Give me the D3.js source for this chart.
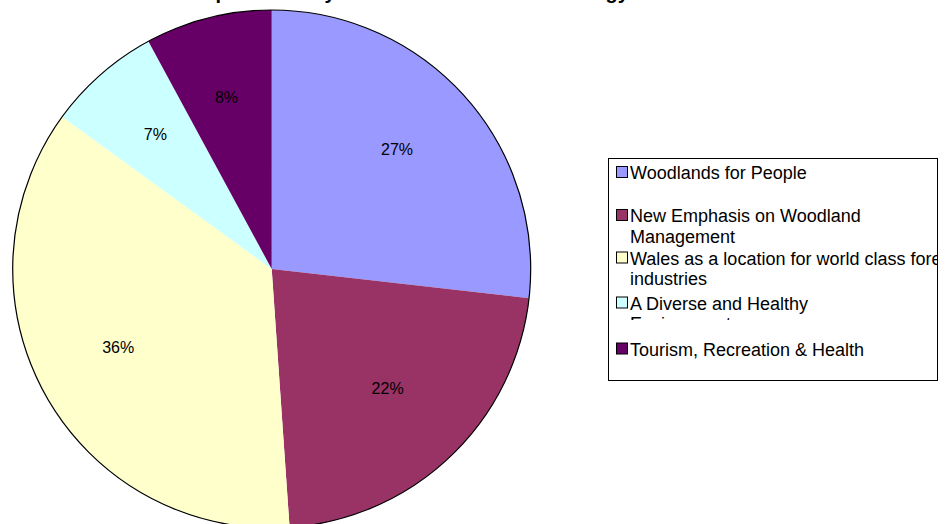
<!DOCTYPE html>
<html>
<head>
<meta charset="utf-8">
<script src="https://cdn.jsdelivr.net/npm/d3@7/dist/d3.min.js"></script>
<style>
  html, body { margin: 0; padding: 0; background: #fff; }
  svg { display: block; font-family: "Liberation Sans", Arial, sans-serif; }
</style>
</head>
<body>
<svg id="chart" width="952" height="524"></svg>
<script>
// ---- data ----
const title = "Expenditure by Woodlands for Wales Strategy Theme";
const categories = [
  "Woodlands for People",
  "New Emphasis on Woodland Management",
  "Wales as a location for world class forestry industries",
  "A Diverse and Healthy Environment",
  "Tourism, Recreation & Health"
];
const values = [26.8, 22.1, 36.1, 7.1, 7.9];
const percentLabels = ["27%", "22%", "36%", "7%", "8%"];
const colors = ["#9999FF", "#993366", "#FFFFCC", "#CCFFFF", "#660066"];
const legendLines = [
  ["Woodlands for People"],
  ["New Emphasis on Woodland", "Management"],
  ["Wales as a location for world class forestry", "industries"],
  ["A Diverse and Healthy", "Environment"],
  ["Tourism, Recreation & Health"]
];

// ---- layout ----
const svg = d3.select("#chart");
const cx = 271.7, cy = 269, R = 259;
const labelR = 172;
const legendBox = { x: 608.5, y: 158.5, w: 329, h: 222 };
const legendBaselines = [179, 222, 264.5, 309.5, 355.5];
const lineHeight = 20.5;
const itemClipBottom = [200, 250, 295, 320, 375];

// title (mostly cut off at top)
svg.append("text")
  .attr("x", 445).attr("y", -1.5)
  .attr("text-anchor", "middle")
  .attr("font-size", 20).attr("font-weight", "bold")
  .attr("fill", "#000")
  .text(title);

const pie = d3.pie().sort(null).value(d => d.v);
const data = pie(values.map((v, i) => ({ v, i })));
const arc = d3.arc().innerRadius(0).outerRadius(R);
const labelArc = d3.arc().innerRadius(labelR).outerRadius(labelR);

const g = svg.append("g").attr("transform", `translate(${cx},${cy})`);
g.selectAll("path.slice").data(data).join("path")
  .attr("class", "slice")
  .attr("d", arc)
  .attr("fill", d => colors[d.data.i]);
g.append("circle").attr("r", R).attr("fill", "none").attr("stroke", "#000").attr("stroke-width", 1.2);

g.selectAll("text.pct").data(data).join("text")
  .attr("class", "pct")
  .attr("transform", d => { const c = labelArc.centroid(d); return `translate(${c[0] - 3},${c[1] - 5})`; })
  .attr("text-anchor", "middle")
  .attr("dy", "0.35em")
  .attr("font-size", 16)
  .attr("fill", "#000")
  .text(d => percentLabels[d.data.i]);

// legend
const defs = svg.append("defs");
defs.append("clipPath").attr("id", "legclip").append("rect")
  .attr("x", legendBox.x).attr("y", legendBox.y).attr("width", legendBox.w).attr("height", legendBox.h);
legendLines.forEach((lines, i) => {
  defs.append("clipPath").attr("id", "itemclip" + i).append("rect")
    .attr("x", legendBox.x).attr("y", legendBox.y).attr("width", legendBox.w)
    .attr("height", itemClipBottom[i] - legendBox.y);
});

svg.append("rect")
  .attr("x", legendBox.x).attr("y", legendBox.y)
  .attr("width", legendBox.w).attr("height", legendBox.h)
  .attr("fill", "#fff").attr("stroke", "#000").attr("stroke-width", 1);

const leg = svg.append("g").attr("clip-path", "url(#legclip)");
categories.forEach((c, i) => {
  const item = leg.append("g").attr("clip-path", `url(#itemclip${i})`);
  const base = legendBaselines[i];
  item.append("rect")
    .attr("x", 616.5).attr("y", base - 12.5)
    .attr("width", 11).attr("height", 11)
    .attr("fill", colors[i]).attr("stroke", "#000").attr("stroke-width", 1);
  const t = item.append("text")
    .attr("x", 630).attr("y", base)
    .attr("font-size", 18).attr("fill", "#000");
  legendLines[i].forEach((ln, j) => {
    t.append("tspan").attr("x", 630).attr("y", base + j * lineHeight).text(ln);
  });
});
</script>
</body>
</html>
